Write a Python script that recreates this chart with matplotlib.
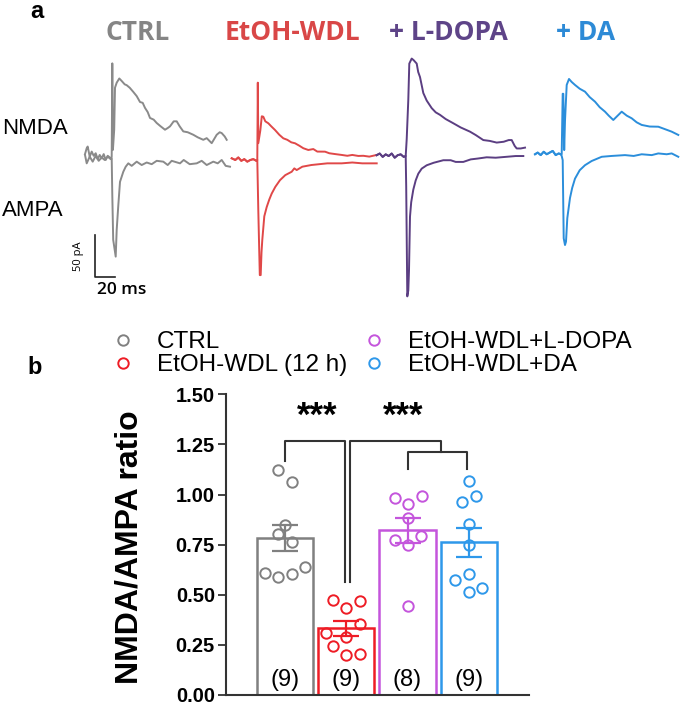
import numpy as np
import matplotlib
matplotlib.use("Agg")
import matplotlib.pyplot as plt
from matplotlib.lines import Line2D

plt.rcParams['font.family'] = ['Liberation Sans', 'DejaVu Sans']

W, H = 682, 705

# ---------------- data: example traces (ms, pA) ----------------
ctrl_nmda_t = [-26.7, -25, -24, -22, -20, -18, -16, -14, -12, -10, -8, -6, -4, -2, -0.5, 0, 0.6, 1.2, 2.5, 3.3,
               5, 7.6, 10, 13, 15, 18, 21.6, 25, 28.3, 31, 33.3, 36, 38.3, 42, 45, 49, 53.3, 56, 58.3, 62,
               65, 68, 71.6, 76, 81.6, 86, 91.6, 95, 100, 102, 105, 108, 110, 113, 115]
ctrl_nmda_pA = [5, 12, 14, 2, 8, 3, 6, -1, 4, 0, 5, -2, 3, 1, 0, 2, 113, 10, 34, 84,
                90, 95, 92, 88, 87, 84, 79, 74, 67, 66, 60, 55, 48, 46, 42, 38, 34, 36, 38, 44,
                44, 38, 32, 31, 28, 25, 22, 24, 18, 22, 28, 31, 30, 26, 22]
ctrl_ampa_t = [-26.7, -25, -22, -19, -16, -13, -10, -7, -4, -1, 0, 0.6, 1.5, 4, 5, 6.6, 8.3, 11.6, 14, 16.6,
               20, 25, 30, 35, 40, 45, 51.6, 56, 60, 68.3, 72, 78, 85, 90, 95, 101.6, 106, 110, 114, 118.3]
ctrl_ampa_pA = [4, -6, 2, -4, 3, -3, 1, -2, 2, -1, 0, -44, -97, -117, -85, -56, -28, -16, -10, -6,
                -9, -4, -8, -5, -7, -3, -4, -8, -3, -6, -2, -7, -6, -3, -8, -4, -6, -2, -9, -10]

wdl_nmda_t = [-25.6, -22, -19, -16, -13, -10, -7, -4, -1, 0, 0.5, 1, 3, 4.5, 6, 8, 11, 14, 17.7, 22,
              26, 30, 34, 37.7, 42, 46, 51, 56, 60, 67.7, 72, 78, 84.4, 90, 95, 101, 106, 112, 119.4]
wdl_nmda_pA = [2, 0, 3, -1, 1, -2, 0, 1, -1, 0, 92, 20, 35, 52, 51.5, 46, 43.7, 40, 35.7, 30,
               25.8, 24, 21, 19.9, 17, 14, 11.9, 13, 10, 9.9, 8, 7, 6, 5, 6, 4.8, 5, 4, 6]
wdl_ampa_t = [-25.6, -22, -19, -16, -13, -10, -7, -4, -1, 0, 1, 2.5, 3.4, 4.2, 5, 7, 9.4, 12, 14.4, 18,
              22.7, 28, 34.4, 37, 39.4, 45, 54, 62, 70, 84.4, 95, 105, 119.4]
wdl_ampa_pA = [2, 0, 3, -1, 1, -2, 0, 1, -1, 0, -60, -137, -137, -110, -95, -67, -56, -47, -40, -32,
               -24, -18, -14, -10, -12, -8, -6, -5, -4, -4, -3, -4, -4]

ldopa_nmda_t = [-29, -26, -23, -20, -17, -14, -11, -8, -5, -2, 0, 1, 2.6, 3.6, 6, 8, 11, 12.5, 14.3, 17.6,
                21, 26, 30, 34.3, 40, 47.6, 55, 64.3, 70, 77.6, 84, 91, 98, 103, 106, 109, 111, 115, 119.3]
ldopa_nmda_pA = [1, 3, -1, 2, 0, 3, -2, 1, 2, -1, 0, 20, 67, 110, 116, 114, 110, 100, 94, 75,
                 66, 57, 52, 49, 44, 39, 34, 29, 25, 19, 18, 16, 17, 19, 19, 12, 9, 9, 10]
ldopa_ampa_t = [-29, -26, -23, -20, -17, -14, -11, -8, -5, -2, 0, 0.5, 1.6, 2.6, 3.3, 4.3, 5.5, 7.6, 10, 12.6,
                16, 21, 28, 37.6, 45, 50, 57.6, 65, 72, 81, 90, 100, 110, 117.6]
ldopa_ampa_pA = [1, 3, -1, 2, 0, 3, -2, 1, 2, -1, 0, -36, -167, -160, -136, -72, -55, -40, -29, -21,
                 -15, -11, -8, -5, -5, -7, -7, -4, -3, -1.5, -2, -1, 0, 0]

da_nmda_t = [-26.7, -24, -21, -18, -15, -12, -9, -6, -3, -1, 0, 1, 1.6, 2.5, 3.3, 5, 7.3, 10, 13.3, 18,
             23.3, 28, 33.3, 38, 43.3, 47, 51.6, 56, 60, 65, 70, 75, 80, 88, 96.6, 103, 110, 116.6]
da_nmda_pA = [0, 2, -1, 3, 0, 2, 4, -1, 1, 0, 0, 72, 72, 5, 40, 82.5, 89.6, 86, 82.5, 78,
              74.5, 68, 62.6, 56, 50.7, 46, 40.8, 46, 50.7, 46, 42.8, 38, 34.9, 33, 32.8, 30, 26.9, 23]
da_ampa_t = [-26.7, -24, -21, -18, -15, -12, -9, -6, -3, -1, 0, 1, 2, 3.3, 4.3, 5.6, 8.3, 10.5, 13.3, 18,
             23.3, 30, 40, 50, 63.3, 72, 80, 90, 96.6, 105, 110, 116.6]
da_ampa_pA = [0, 2, -1, 3, 0, 2, 4, -1, 1, 0, -2, -7, -100, -108, -104, -76, -52, -40, -29, -19,
              -13, -8, -3, -2, -1, -2, 0, -1, 1, 0, 1, -3]

trace_names = ['CTRL', 'EtOH-WDL', '+ L-DOPA', '+ DA']
trace_colors = ['#8a8a8a', '#e04848', '#5b3e82', '#2b8edb']
title_colors = ['#858585', '#d94747', '#5e4488', '#2d8ad6']
trace_offset_ms = [0, 145.6, 294, 450]
trace_offset_pA = [0, -2, 2.7, 4.8]
title_x_px = [138, 292, 448, 586]

# ---------------- data: NMDA/AMPA ratio ----------------
groups = ['CTRL', 'EtOH-WDL (12 h)', 'EtOH-WDL+L-DOPA', 'EtOH-WDL+DA']
bar_colors = ['#808080', '#ee1c25', '#c455dc', '#2e98ea']
ctrl_pts = [1.121, 1.063, 0.847, 0.802, 0.764, 0.609, 0.589, 0.606, 0.639]
wdl_pts = [0.473, 0.435, 0.470, 0.352, 0.307, 0.291, 0.246, 0.199, 0.203]
ldopa_pts = [0.985, 0.952, 0.992, 0.885, 0.772, 0.747, 0.794, 0.445]
da_pts = [1.066, 0.993, 0.963, 0.855, 0.747, 0.606, 0.576, 0.536, 0.515]
ctrl_dx = [-0.11, 0.11, 0, -0.12, 0.11, -0.33, -0.11, 0.11, 0.33]
wdl_dx = [-0.22, 0, 0.23, 0.23, -0.33, 0, -0.22, 0, 0.23]
ldopa_dx = [-0.2, 0, 0.23, 0, -0.2, 0, 0.22, 0]
da_dx = [0, 0.11, -0.11, 0, 0, 0, -0.22, 0.22, 0]
means = [0.785, 0.332, 0.822, 0.762]
sems = [0.065, 0.036, 0.062, 0.072]
n_labels = ['(9)', '(9)', '(8)', '(9)']

fig = plt.figure(figsize=(W / 100, H / 100), dpi=100)

# ================= panel a: traces =================
axt = fig.add_axes([0, 1 - 300 / H, 1, 300 / H])
axt.axis('off')
axt.set_xlim(-111.7, W - 111.7)
axt.set_ylim(-(300 - 158.3) * 1.19, 158.3 * 1.19)

traces = [(ctrl_nmda_t, ctrl_nmda_pA, ctrl_ampa_t, ctrl_ampa_pA),
          (wdl_nmda_t, wdl_nmda_pA, wdl_ampa_t, wdl_ampa_pA),
          (ldopa_nmda_t, ldopa_nmda_pA, ldopa_ampa_t, ldopa_ampa_pA),
          (da_nmda_t, da_nmda_pA, da_ampa_t, da_ampa_pA)]
for i, (nt, nv, at, av) in enumerate(traces):
    ox, oy = trace_offset_ms[i], trace_offset_pA[i]
    axt.plot(np.array(at) + ox, np.array(av) + oy, color=trace_colors[i], lw=1.4)
    axt.plot(np.array(nt) + ox, np.array(nv) + oy, color=trace_colors[i], lw=1.4)
    fig.text(title_x_px[i] / W, 1 - 32 / H, trace_names[i], color=title_colors[i],
             fontsize=19, fontweight='bold', family=['Open Sans', 'DejaVu Sans'],
             ha='center', va='center')

# scale bar
axt.plot([-16.7, -16.7, 3.3], [-91, -141, -141], color='#222222', lw=1.2)
axt.text(-33, -116, '50 pA', rotation=90, fontsize=8, ha='center', va='center',
         family=['Open Sans', 'DejaVu Sans'])
axt.text(-15, -157, '20 ms', fontsize=12.5, ha='left', va='center', fontweight='semibold',
         family=['Open Sans', 'DejaVu Sans'])

fig.text(2 / W, 1 - 128 / H, 'NMDA', fontsize=16, ha='left', va='center')
fig.text(2 / W, 1 - 210 / H, 'AMPA', fontsize=16, ha='left', va='center')
fig.text(37 / W, 1 - 11 / H, 'a', fontsize=17, fontweight='bold', ha='center', va='center')
fig.text(35 / W, 1 - 368 / H, 'b', fontsize=17, fontweight='bold', ha='center', va='center')

# ================= panel b: bar chart =================
ax = fig.add_axes([226 / W, (H - 695) / H, (529 - 226) / W, (695 - 394.3) / H])
x = np.arange(4)
pts = [ctrl_pts, wdl_pts, ldopa_pts, da_pts]
dxs = [ctrl_dx, wdl_dx, ldopa_dx, da_dx]
ax.bar(x, means, width=0.92, facecolor='none', edgecolor=bar_colors, linewidth=1.8, zorder=2)
for i in range(4):
    ax.errorbar(x[i], means[i], yerr=sems[i], color=bar_colors[i], capsize=9.5,
                capthick=1.6, elinewidth=1.6, zorder=3)
    ax.plot(x[i] + np.array(dxs[i]), pts[i], 'o', mfc='none', mec=bar_colors[i],
            ms=7.5, mew=1.4, zorder=4, clip_on=False)
    ax.text(x[i], 0.075, n_labels[i], ha='center', va='center', fontsize=17)

# significance brackets
bc = '#333333'
ax.plot([0, 0, 0.98, 0.98], [1.165, 1.265, 1.265, 0.565], color=bc, lw=1.5, clip_on=False)
ax.plot([1.06, 1.06, 2.55, 2.55], [0.565, 1.265, 1.265, 1.212], color=bc, lw=1.5, clip_on=False)
ax.plot([2.0, 2.0, 2.97, 2.97], [1.128, 1.212, 1.212, 1.128], color=bc, lw=1.5, clip_on=False)
ax.text(0.52, 1.39, '***', ha='center', va='center', fontsize=25, fontweight='bold')
ax.text(1.93, 1.39, '***', ha='center', va='center', fontsize=25, fontweight='bold')

ax.set_xlim(-0.96, 3.98)
ax.set_ylim(0, 1.5)
ax.set_yticks([0, 0.25, 0.5, 0.75, 1.0, 1.25, 1.5])
ax.set_yticklabels(['%.2f' % v for v in [0, 0.25, 0.5, 0.75, 1.0, 1.25, 1.5]],
                   fontsize=14.5, fontweight='bold')
ax.set_xticks([])
for s in ['top', 'right']:
    ax.spines[s].set_visible(False)
for s in ['left', 'bottom']:
    ax.spines[s].set_color('#333333')
    ax.spines[s].set_linewidth(1.5)
ax.tick_params(axis='y', length=6, width=1.3, color='#333333', pad=2)
ax.set_ylabel('NMDA/AMPA ratio', fontsize=23, fontweight='bold')
ax.yaxis.set_label_coords(-0.27, 0.49)

# legend
handles = [Line2D([], [], ls='none', marker='o', mfc='none', mec=c, ms=7.5, mew=1.4)
           for c in bar_colors]
fig.legend(handles, groups, ncol=2, loc='upper left',
           bbox_to_anchor=(110.7 / W, 1 - 331 / H), frameon=False, fontsize=17.5,
           handlelength=1.0, handletextpad=0.9, columnspacing=0.6, labelspacing=0.05,
           borderpad=0, borderaxespad=0)

fig.savefig('out.png', dpi=100)
